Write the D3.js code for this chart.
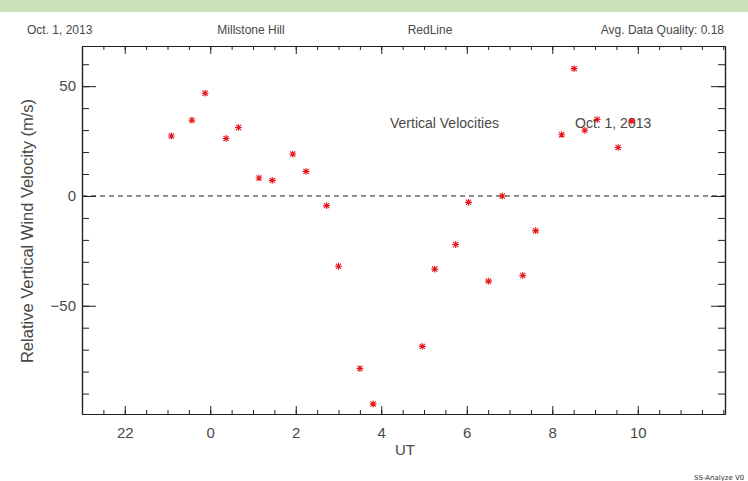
<!DOCTYPE html>
<html>
<head>
<meta charset="utf-8">
<script src="https://cdn.jsdelivr.net/npm/d3@7"></script>
<style>
  html, body { margin: 0; padding: 0; background: #fff; }
  svg { display: block; font-family: "Liberation Sans", Arial, sans-serif; }
</style>
</head>
<body>
<svg id="chart" width="748" height="481"></svg>
<script>
// Relative vertical wind velocity, Millstone Hill red line, night of Oct. 1, 2013.
// Hours are counted from 00 UT on Oct. 1 (negative values fall on the previous day).
const utHours = [-0.91, -0.43, -0.12, 0.37, 0.66, 1.14, 1.45, 1.93, 2.24, 2.72,
                 3.00, 3.50, 3.81, 4.96, 5.25, 5.74, 6.04, 6.51, 6.83, 7.31,
                 7.61, 8.22, 8.51, 8.76, 9.05, 9.54, 9.86];
const velocity = [27.3, 34.5, 46.8, 26.2, 31.2, 8.2, 7.1, 19.1, 11.2, -4.4,
                  -32.0, -78.6, -94.7, -68.5, -33.3, -22.1, -2.9, -38.8, 0.0, -36.2,
                  -15.8, 27.9, 58.0, 29.9, 34.8, 22.1, 34.1];
const xTickHours = [-2, 0, 2, 4, 6, 8, 10];
const yTickValues = [-50, 0, 50];
const headerTexts = ["Oct. 1, 2013", "Millstone Hill", "RedLine", "Avg. Data Quality: 0.18"];

const svg = d3.select("#chart");
const W = 748, H = 481;
const frame = { left: 82, right: 725, top: 46, bottom: 414 };

// pale green strip across the top of the page
svg.append("rect").attr("x", 0).attr("y", 0).attr("width", W).attr("height", 12)
  .attr("fill", "#c9e2b8");

const x = d3.scaleLinear().domain([-3, 12.04]).range([frame.left, frame.right]);
const y = d3.scaleLinear().domain([-99.3, 68.3]).range([frame.bottom, frame.top]);

const ink = "#222";
const textInk = "#484848";

// header line
const header = svg.append("g").attr("font-size", 12).attr("fill", textInk);
header.append("text").attr("x", 27).attr("y", 34).text(headerTexts[0]);
header.append("text").attr("x", 251).attr("y", 34).attr("text-anchor", "middle").text(headerTexts[1]);
header.append("text").attr("x", 430).attr("y", 34).attr("text-anchor", "middle").text(headerTexts[2]);
header.append("text").attr("x", 724).attr("y", 34).attr("text-anchor", "end").text(headerTexts[3]);

// axes: major + minor ticks on all four sides, pointing inward
const hourLabel = d => String(((d % 24) + 24) % 24);
const xMinor = d3.range(-3, 12.01, 0.5);
const yMinor = d3.range(-90, 61, 10);

function drawAxis(axis, transform, cls) {
  const g = svg.append("g").attr("transform", transform).attr("class", cls).call(axis);
  g.selectAll("path.domain").attr("stroke", ink).attr("stroke-width", 1.2);
  g.selectAll(".tick line").attr("stroke", ink).attr("stroke-width", 1);
  g.selectAll(".tick text").attr("fill", textInk).attr("font-size", 15)
    .attr("font-family", "\"Liberation Sans\", Arial, sans-serif");
  return g;
}

// bottom
drawAxis(d3.axisBottom(x).tickValues(xMinor).tickSize(-4).tickSizeOuter(0).tickFormat(""),
  `translate(0,${frame.bottom})`, "xminor");
drawAxis(d3.axisBottom(x).tickValues(xTickHours).tickSize(-8).tickSizeOuter(0).tickPadding(13)
  .tickFormat(hourLabel), `translate(0,${frame.bottom})`, "xmajor");
// top
drawAxis(d3.axisTop(x).tickValues(xMinor).tickSize(-4).tickSizeOuter(0).tickFormat(""),
  `translate(0,${frame.top})`, "xminorTop");
drawAxis(d3.axisTop(x).tickValues(xTickHours).tickSize(-8).tickSizeOuter(0).tickFormat(""),
  `translate(0,${frame.top})`, "xmajorTop");
// left
drawAxis(d3.axisLeft(y).tickValues(yMinor).tickSize(-7).tickSizeOuter(0).tickFormat(""),
  `translate(${frame.left},0)`, "yminor");
drawAxis(d3.axisLeft(y).tickValues(yTickValues).tickSize(-14).tickSizeOuter(0).tickPadding(6)
  .tickFormat(d => d < 0 ? "\u2212" + Math.abs(d) : String(d)), `translate(${frame.left},0)`, "ymajor");
// right
drawAxis(d3.axisRight(y).tickValues(yMinor).tickSize(-7).tickSizeOuter(0).tickFormat(""),
  `translate(${frame.right},0)`, "yminorR");
drawAxis(d3.axisRight(y).tickValues(yTickValues).tickSize(-14).tickSizeOuter(0).tickFormat(""),
  `translate(${frame.right},0)`, "ymajorR");

// axis titles
svg.append("text").attr("x", 405).attr("y", 455).attr("text-anchor", "middle")
  .attr("font-size", 15).attr("fill", textInk).text("UT");
svg.append("text").attr("transform", `translate(33,231) rotate(-90)`)
  .attr("text-anchor", "middle").attr("font-size", 16.5).attr("fill", textInk)
  .text("Relative Vertical Wind Velocity (m/s)");

// zero reference line
svg.append("line").attr("x1", frame.left).attr("x2", frame.right)
  .attr("y1", y(0)).attr("y2", y(0))
  .attr("stroke", ink).attr("stroke-width", 1).attr("stroke-dasharray", "5,4");

// in-plot annotations
const notes = svg.append("g").attr("font-size", 14).attr("fill", textInk);
notes.append("text").attr("x", 390).attr("y", 128).text("Vertical Velocities");
notes.append("text").attr("x", 575).attr("y", 128).text("Oct. 1, 2013");

// asterisk markers
const r = 3.4, rd = 2.6;
const star = `M${-r},0L${r},0M0,${-r}L0,${r}M${-rd},${-rd}L${rd},${rd}M${-rd},${rd}L${rd},${-rd}`;
const pts = utHours.map((h, i) => ({ h, v: velocity[i] }));
svg.append("g").selectAll("path").data(pts).join("path")
  .attr("transform", d => `translate(${x(d.h)},${y(d.v)})`)
  .attr("d", star).attr("fill", "none").attr("stroke", "#e8161b").attr("stroke-width", 1.1);

// program tag, bottom right
svg.append("text").attr("x", 694).attr("y", 480).attr("font-size", 7).attr("fill", "#333")
  .attr("font-family", "\"DejaVu Sans\", sans-serif").text("SS-Analyze V0");
</script>
</body>
</html>
